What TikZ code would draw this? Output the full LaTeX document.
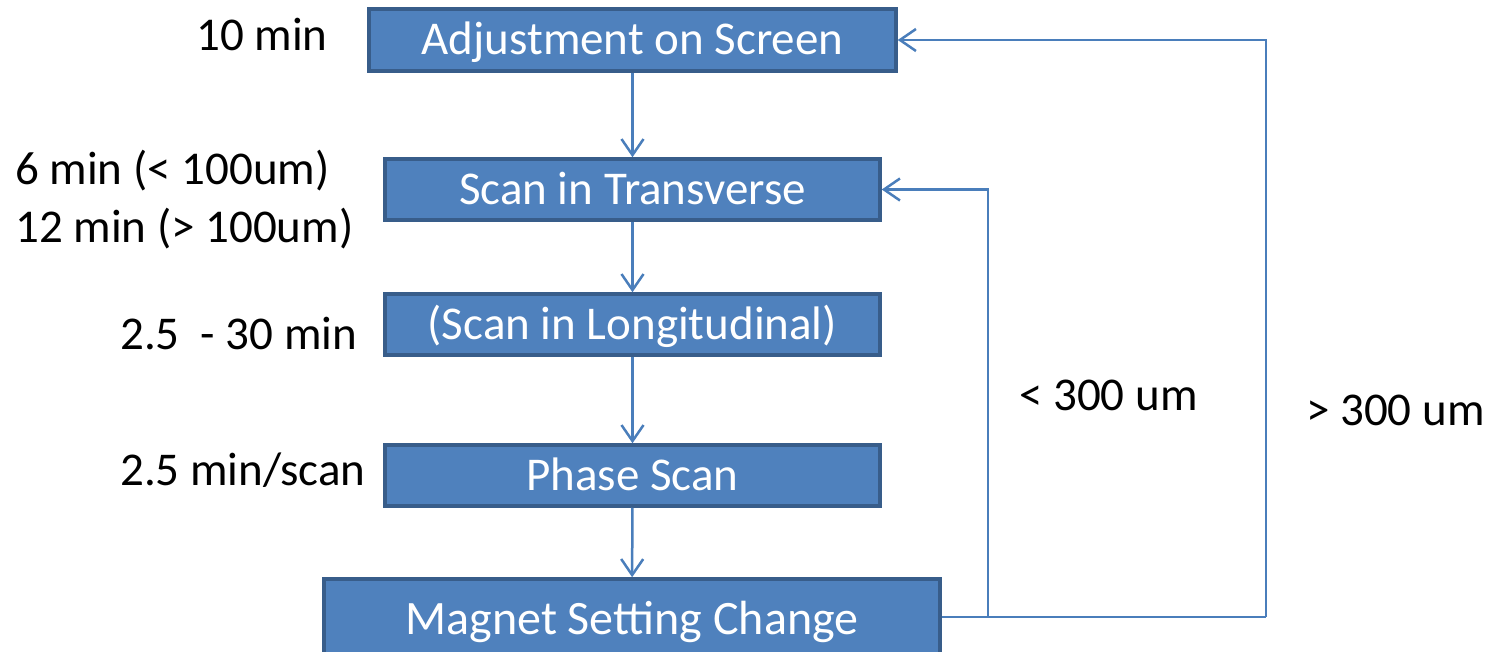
\documentclass[tikz,border=0pt]{standalone}
\usepackage{fontspec}
\setmainfont{Carlito}
\usetikzlibrary{arrows.meta}
\definecolor{boxfill}{HTML}{4F81BD}
\definecolor{boxline}{HTML}{385D8A}
\definecolor{wire}{HTML}{4A7EBB}
\begin{document}
\begin{tikzpicture}[x=1pt,y=1pt,
  stepbox/.style={draw=boxline, fill=boxfill, line width=3.5pt, text=white,
    inner sep=0pt, text height=30pt, text depth=0pt,
    font=\fontsize{47}{56}\selectfont},
  lbl/.style={inner sep=0pt, font=\fontsize{47}{58}\selectfont},
  wireline/.style={draw=wire, line width=2.5pt},
  arr/.style={wireline, -{Straight Barb[length=16pt,width=22pt,line width=2.5pt]}}]
\useasboundingbox (0,0) rectangle (1497,-652);
\clip (0,0) rectangle (1497,-652);

% process steps
\node[stepbox, minimum width=527pt, minimum height=62pt] (b1) at (632.5,-40) {Adjustment on Screen};
\node[stepbox, minimum width=495pt, minimum height=61pt] (b2) at (632.5,-189.5) {Scan in Transverse};
\node[stepbox, minimum width=495pt, minimum height=61pt] (b3) at (632.5,-324.5) {(Scan in Longitudinal)};
\node[stepbox, minimum width=495pt, minimum height=61pt] (b4) at (632.5,-475.5) {Phase Scan};
\node[stepbox, text height=34pt, font=\fontsize{48}{56}\selectfont,
      minimum width=616pt, minimum height=76pt] (b5) at (632,-617) {Magnet Setting Change};

% forward flow
\draw[arr] (b1) -- (b2);
\draw[arr] (b2) -- (b3);
\draw[arr] (b3) -- (b4);
\draw[arr] (b4) -- (b5);

% feedback loops
\coordinate (r1) at (988,-617);
\coordinate (r2) at (1266,-617);
\draw[wireline] (b5.east) -- (r2);
\draw[arr] (r1) |- (b2.east);
\draw[arr] (r2) |- (b1.east);

% durations
\node[lbl, anchor=base west] (t1) at (196,-51) {10 min};
\node[lbl, anchor=base west] (t2a) at (15,-185) {6 min (< 100um)};
\node[lbl, anchor=base west] (t2b) at (15,-243) {12 min (> 100um)};
\node[lbl, anchor=base west] (t3) at (120,-350) {2.5\ \ - 30 min};
\node[lbl, anchor=base west] (t4) at (120,-485) {2.5 min/scan};

% loop conditions
\node[lbl, anchor=base west] (c1) at (1019,-410) {< 300 um};
\node[lbl, anchor=base west] (c2) at (1306,-425) {> 300 um};
\end{tikzpicture}
\end{document}
